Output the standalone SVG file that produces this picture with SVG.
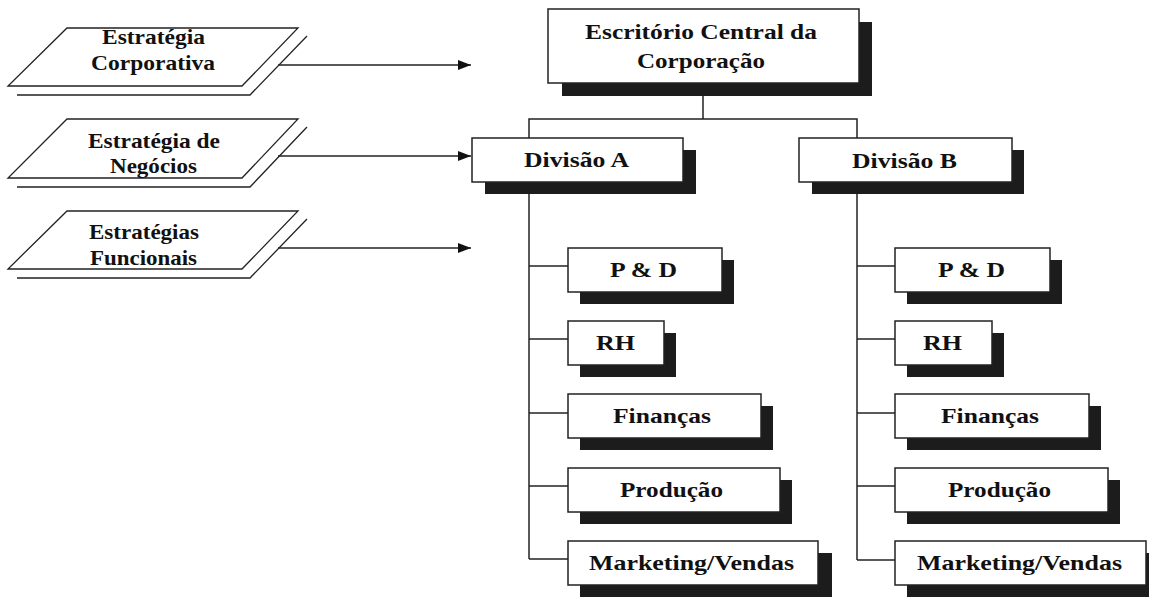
<svg xmlns="http://www.w3.org/2000/svg" width="1149" height="597" viewBox="0 0 1149 597">
<style>
.t{font-family:"Liberation Serif","Times New Roman",serif;font-weight:bold;font-size:21px;fill:#111}
.box{fill:#fff;stroke:#222;stroke-width:1.5}
.sh{fill:#1c1c1c}
.ln{stroke:#222;stroke-width:1.5;fill:none}
.pg{fill:#fff;stroke:#222;stroke-width:1.3}
</style>
<defs>
<marker id="ah" viewBox="0 0 13 10" refX="13" refY="5" markerWidth="13" markerHeight="10" markerUnits="userSpaceOnUse" orient="auto">
<path d="M0,0 L13,5 L0,10 Z" fill="#111"/>
</marker>
</defs>
<g id="connectors">
<line class="ln" x1="278" y1="65" x2="471" y2="65" marker-end="url(#ah)"/>
<line class="ln" x1="278" y1="156" x2="471" y2="156" marker-end="url(#ah)"/>
<line class="ln" x1="278" y1="248" x2="471" y2="248" marker-end="url(#ah)"/>
<line class="ln" x1="703" y1="90" x2="703" y2="119"/>
<polyline class="ln" points="529,138 529,119 857,119 857,138"/>
<line class="ln" x1="529" y1="182" x2="529" y2="559"/>
<line class="ln" x1="529" y1="266" x2="568" y2="266"/>
<line class="ln" x1="529" y1="339" x2="568" y2="339"/>
<line class="ln" x1="529" y1="413" x2="568" y2="413"/>
<line class="ln" x1="529" y1="486" x2="568" y2="486"/>
<line class="ln" x1="529" y1="559" x2="568" y2="559"/>
<line class="ln" x1="857" y1="182" x2="857" y2="560"/>
<line class="ln" x1="857" y1="266" x2="895" y2="266"/>
<line class="ln" x1="857" y1="339" x2="895" y2="339"/>
<line class="ln" x1="857" y1="413" x2="895" y2="413"/>
<line class="ln" x1="857" y1="486" x2="895" y2="486"/>
<line class="ln" x1="857" y1="560" x2="895" y2="560"/>
</g>
<g id="strat-corp">
<polyline class="ln" style="stroke-width:1.3" points="307,36 250,95 17,95"/>
<polygon class="pg" points="67,28 298,28 242,86 8,86"/>
<text class="t" x="102" y="44" textLength="103" lengthAdjust="spacingAndGlyphs">Estratégia</text>
<text class="t" x="91" y="70" textLength="124" lengthAdjust="spacingAndGlyphs">Corporativa</text>
</g>
<g id="strat-neg">
<polyline class="ln" style="stroke-width:1.3" points="307,127 250,187 17,187"/>
<polygon class="pg" points="67,119 298,119 242,178 8,178"/>
<text class="t" x="88" y="148" textLength="132" lengthAdjust="spacingAndGlyphs">Estratégia de</text>
<text class="t" x="110" y="173" textLength="87" lengthAdjust="spacingAndGlyphs">Negócios</text>
</g>
<g id="strat-func">
<polyline class="ln" style="stroke-width:1.3" points="307,219 250,278 17,278"/>
<polygon class="pg" points="67,211 298,211 242,269 8,269"/>
<text class="t" x="89" y="239" textLength="110" lengthAdjust="spacingAndGlyphs">Estratégias</text>
<text class="t" x="90" y="265" textLength="107" lengthAdjust="spacingAndGlyphs">Funcionais</text>
</g>
<g id="hq">
<rect class="sh" x="562" y="83" width="310" height="13"/>
<rect class="sh" x="859" y="22" width="13" height="74"/>
<rect class="box" x="548" y="9" width="311" height="74"/>
<text class="t" x="585" y="39" textLength="232" lengthAdjust="spacingAndGlyphs" style="font-size:22px">Escritório Central da</text>
<text class="t" x="637" y="68" textLength="128" lengthAdjust="spacingAndGlyphs" style="font-size:22px">Corporação</text>
</g>
<g id="divA">
<rect class="sh" x="485" y="150" width="211" height="44"/>
<rect class="box" x="472" y="138" width="211" height="44"/>
<text class="t" x="524" y="167" textLength="105" lengthAdjust="spacingAndGlyphs" style="font-size:22px">Divisão A</text>
</g>
<g id="divB">
<rect class="sh" x="812" y="150" width="212" height="44"/>
<rect class="box" x="799" y="138" width="213" height="44"/>
<text class="t" x="852" y="168" textLength="105" lengthAdjust="spacingAndGlyphs" style="font-size:22px">Divisão B</text>
</g>
<g id="a-pd">
<rect class="sh" x="580" y="260" width="154" height="44"/>
<rect class="box" x="568" y="248" width="154" height="44"/>
<text class="t" x="610" y="277" textLength="67" lengthAdjust="spacingAndGlyphs">P &amp; D</text>
</g>
<g id="a-rh">
<rect class="sh" x="580" y="333" width="96" height="44"/>
<rect class="box" x="568" y="321" width="96" height="44"/>
<text class="t" x="596" y="350" textLength="39" lengthAdjust="spacingAndGlyphs">RH</text>
</g>
<g id="a-fin">
<rect class="sh" x="580" y="406" width="193" height="44"/>
<rect class="box" x="568" y="394" width="193" height="44"/>
<text class="t" x="613" y="423" textLength="98" lengthAdjust="spacingAndGlyphs">Finanças</text>
</g>
<g id="a-prod">
<rect class="sh" x="580" y="480" width="212" height="44"/>
<rect class="box" x="568" y="468" width="212" height="44"/>
<text class="t" x="620" y="497" textLength="103" lengthAdjust="spacingAndGlyphs">Produção</text>
</g>
<g id="a-mkt">
<rect class="sh" x="580" y="553" width="252" height="44"/>
<rect class="box" x="568" y="541" width="250" height="44"/>
<text class="t" x="589" y="570" textLength="205" lengthAdjust="spacingAndGlyphs">Marketing/Vendas</text>
</g>
<g id="b-pd">
<rect class="sh" x="907" y="260" width="155" height="44"/>
<rect class="box" x="895" y="248" width="155" height="44"/>
<text class="t" x="938" y="277" textLength="67" lengthAdjust="spacingAndGlyphs">P &amp; D</text>
</g>
<g id="b-rh">
<rect class="sh" x="907" y="333" width="97" height="44"/>
<rect class="box" x="895" y="321" width="97" height="44"/>
<text class="t" x="923" y="350" textLength="39" lengthAdjust="spacingAndGlyphs">RH</text>
</g>
<g id="b-fin">
<rect class="sh" x="907" y="406" width="194" height="44"/>
<rect class="box" x="895" y="394" width="194" height="44"/>
<text class="t" x="941" y="423" textLength="98" lengthAdjust="spacingAndGlyphs">Finanças</text>
</g>
<g id="b-prod">
<rect class="sh" x="907" y="480" width="213" height="44"/>
<rect class="box" x="895" y="468" width="213" height="44"/>
<text class="t" x="948" y="497" textLength="103" lengthAdjust="spacingAndGlyphs">Produção</text>
</g>
<g id="b-mkt">
<rect class="sh" x="907" y="553" width="252" height="44"/>
<rect class="box" x="895" y="541" width="251" height="44"/>
<text class="t" x="917" y="570" textLength="205" lengthAdjust="spacingAndGlyphs">Marketing/Vendas</text>
</g>
</svg>
